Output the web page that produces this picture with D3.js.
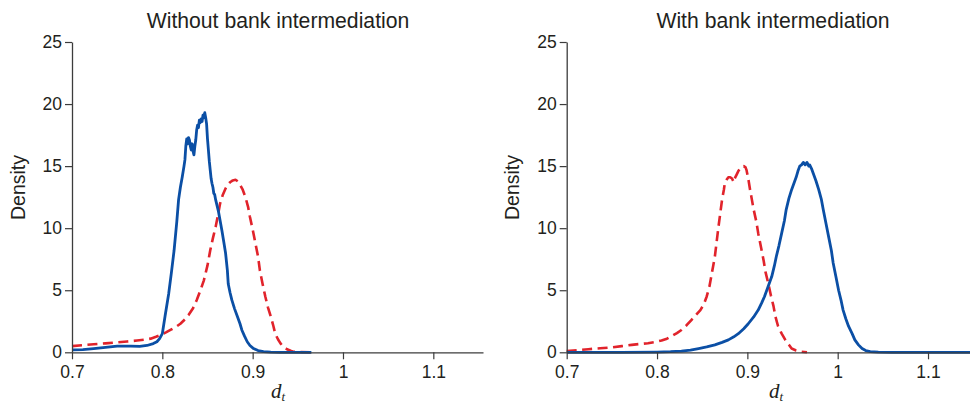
<!DOCTYPE html>
<html>
<head>
<meta charset="utf-8">
<script src="https://cdn.jsdelivr.net/npm/d3@7"></script>
<style>
  html, body { margin: 0; padding: 0; background: #fff; }
  svg { display: block; }
  text { font-family: "Liberation Sans", Arial, Helvetica, sans-serif; fill: #231f20; }
</style>
</head>
<body>
<svg id="chart" width="970" height="405"></svg>
<script>
// ---------------- data ----------------
const panelTitles = ["Without bank intermediation", "With bank intermediation"];
const xTicks = [0.7, 0.8, 0.9, 1.0, 1.1];
const xTickLabels = ["0.7", "0.8", "0.9", "1", "1.1"];
const yTicks = [0, 5, 10, 15, 20, 25];
const yTickLabels = ["0", "5", "10", "15", "20", "25"];

// Without bank intermediation: solid blue
const withoutBlue = [
  [0.700,0.2],[0.712,0.22],[0.724,0.3],[0.737,0.4],[0.750,0.5],[0.765,0.5],[0.775,0.48],[0.783,0.55],
  [0.790,0.7],[0.794,0.85],[0.797,1.1],[0.800,1.5],[0.803,2.9],[0.807,4.7],[0.810,6.4],[0.813,8.2],
  [0.816,10.5],[0.818,12.3],[0.820,13.3],[0.822,14.1],[0.824,15.0],[0.825,15.5],[0.826,16.6],[0.827,17.2],
  [0.828,16.8],[0.829,17.3],[0.830,17.1],[0.831,16.6],[0.832,16.3],[0.833,16.8],[0.834,16.2],[0.835,15.9],
  [0.836,16.6],[0.837,17.1],[0.838,17.9],[0.839,18.3],[0.840,18.1],[0.841,18.7],[0.842,18.5],[0.843,18.8],
  [0.844,18.6],[0.845,19.1],[0.846,18.9],[0.847,19.3],[0.848,18.9],[0.849,18.4],[0.850,17.2],[0.851,16.3],
  [0.852,15.4],[0.853,14.7],[0.854,14.0],[0.855,13.6],[0.856,13.3],[0.857,12.8],[0.858,12.7],[0.859,12.3],
  [0.861,11.7],[0.862,11.4],[0.864,10.6],[0.866,9.8],[0.868,8.9],[0.870,8.0],[0.872,6.6],[0.873,5.5],
  [0.875,4.8],[0.877,4.2],[0.880,3.5],[0.883,2.9],[0.886,2.3],[0.888,1.8],[0.891,1.3],[0.894,0.85],
  [0.897,0.55],[0.901,0.3],[0.906,0.14],[0.912,0.05],[0.920,0.01],[0.930,0],[0.950,0],[0.965,0]
];
// Without bank intermediation: dashed red
const withoutRed = [
  [0.700,0.5],[0.712,0.57],[0.724,0.65],[0.737,0.72],[0.750,0.8],[0.761,0.87],[0.772,0.95],[0.780,1.02],
  [0.787,1.1],[0.793,1.25],[0.798,1.4],[0.804,1.6],[0.809,1.8],[0.815,2.05],[0.820,2.3],[0.825,2.65],
  [0.829,3.0],[0.834,3.55],[0.838,4.2],[0.842,4.95],[0.846,5.8],[0.850,7.0],[0.853,8.2],[0.856,9.2],
  [0.859,10.1],[0.862,11.2],[0.864,12.0],[0.867,12.7],[0.870,13.2],[0.873,13.55],[0.875,13.7],[0.878,13.85],
  [0.881,13.9],[0.884,13.75],[0.886,13.5],[0.889,13.1],[0.892,12.5],[0.895,11.7],[0.897,10.9],[0.900,9.9],
  [0.903,8.8],[0.906,7.7],[0.908,6.6],[0.911,5.5],[0.914,4.5],[0.917,3.6],[0.920,2.9],[0.923,2.1],
  [0.925,1.5],[0.928,1.05],[0.931,0.7],[0.934,0.45],[0.938,0.25],[0.942,0.12],[0.945,0.05],[0.952,0.02],[0.966,0]
];
// With bank intermediation: solid blue
const withBlue = [
  [0.700,0],[0.760,0],[0.800,0.02],[0.815,0.05],[0.827,0.1],[0.837,0.18],[0.846,0.3],[0.855,0.43],
  [0.864,0.6],[0.872,0.8],[0.879,1.0],[0.885,1.25],[0.890,1.5],[0.896,1.9],[0.901,2.3],[0.907,2.85],
  [0.912,3.4],[0.916,4.0],[0.919,4.5],[0.923,5.3],[0.927,6.1],[0.930,7.0],[0.932,7.7],[0.935,8.6],
  [0.938,9.6],[0.941,10.6],[0.943,11.5],[0.946,12.4],[0.949,13.1],[0.952,13.7],[0.954,14.1],[0.956,14.6],
  [0.958,15.0],[0.960,15.1],[0.962,15.3],[0.964,15.1],[0.966,15.3],[0.968,15.0],[0.969,15.1],[0.971,14.8],
  [0.973,14.4],[0.976,13.8],[0.979,13.1],[0.982,12.3],[0.984,11.5],[0.987,10.4],[0.990,9.3],[0.993,8.2],
  [0.995,7.2],[0.998,6.1],[1.001,5.0],[1.004,4.1],[1.006,3.4],[1.009,2.7],[1.012,2.1],[1.016,1.5],
  [1.019,1.0],[1.023,0.6],[1.027,0.3],[1.031,0.14],[1.036,0.05],[1.045,0.01],[1.060,0],[1.100,0],[1.150,0]
];
// With bank intermediation: dashed red
const withRed = [
  [0.700,0.1],[0.712,0.17],[0.724,0.25],[0.737,0.32],[0.750,0.4],[0.761,0.5],[0.772,0.6],[0.781,0.67],
  [0.790,0.73],[0.798,0.83],[0.805,0.95],[0.811,1.1],[0.816,1.3],[0.822,1.55],[0.827,1.8],[0.833,2.2],
  [0.838,2.6],[0.843,3.0],[0.848,3.4],[0.852,3.9],[0.855,4.5],[0.858,5.3],[0.860,6.1],[0.862,6.9],
  [0.864,7.7],[0.866,8.9],[0.868,10.1],[0.870,11.2],[0.872,12.3],[0.874,13.1],[0.875,13.6],[0.877,13.9],
  [0.879,14.1],[0.881,14.1],[0.883,14.0],[0.885,13.7],[0.886,14.0],[0.888,14.3],[0.890,14.6],[0.892,14.8],
  [0.894,14.95],[0.896,15.0],[0.898,14.9],[0.899,14.7],[0.901,14.0],[0.903,13.1],[0.905,12.3],[0.907,11.5],
  [0.910,10.5],[0.912,9.6],[0.915,8.5],[0.918,7.4],[0.920,6.5],[0.923,5.6],[0.926,4.6],[0.929,3.7],
  [0.931,2.9],[0.934,2.1],[0.938,1.5],[0.942,1.0],[0.946,0.6],[0.949,0.3],[0.954,0.15],[0.960,0.05],[0.966,0]
];

const panels = [
  { title: panelTitles[0], blue: withoutBlue, red: withoutRed, x0: 72,    x1: 483,   ylabX: 24.5,  titleX: 278, dX: 278 },
  { title: panelTitles[1], blue: withBlue,    red: withRed,    x0: 566.7, x1: 977.7, ylabX: 518.5, titleX: 773, dX: 776 }
];

// ---------------- drawing ----------------
const svg = d3.select("#chart");
const axisColor = "#3c3c3c";
const blueColor = "#0b4fa5";
const redColor = "#e1232b";

panels.forEach(p => {
  const x = d3.scaleLinear().domain([0.7, 1.155]).range([p.x0, p.x1]);
  const y = d3.scaleLinear().domain([0, 25]).range([352.3, 42]);
  const g = svg.append("g");

  // curves
  const line = d3.line().x(d => x(d[0])).y(d => y(d[1])).curve(d3.curveLinear);
  g.append("path").datum(p.red)
    .attr("d", line).attr("fill", "none")
    .attr("stroke", redColor).attr("stroke-width", 2.6)
    .attr("stroke-dasharray", "10,5.5").attr("stroke-linejoin", "round");
  g.append("path").datum(p.blue)
    .attr("d", line).attr("fill", "none")
    .attr("stroke", blueColor).attr("stroke-width", 2.8)
    .attr("stroke-linejoin", "round");

  // x axis
  const xAxis = d3.axisBottom(x).tickValues(xTicks)
    .tickFormat((d, i) => xTickLabels[i]).tickSize(7).tickSizeOuter(0).tickPadding(6);
  const gx = g.append("g").attr("transform", `translate(0,${y(0)})`).call(xAxis);
  gx.select(".domain").attr("stroke", axisColor).attr("stroke-width", 1.3);
  gx.selectAll(".tick line").attr("stroke", axisColor).attr("stroke-width", 1.2);
  gx.selectAll(".tick text").attr("font-size", "17.5px").attr("fill", "#231f20")
    .attr("font-family", "Liberation Sans, Arial, sans-serif");

  // y axis
  const yAxis = d3.axisLeft(y).tickValues(yTicks)
    .tickFormat((d, i) => yTickLabels[i]).tickSize(7).tickSizeOuter(0).tickPadding(3);
  const gy = g.append("g").attr("transform", `translate(${p.x0},0)`).call(yAxis);
  gy.select(".domain").attr("stroke", axisColor).attr("stroke-width", 1.3);
  gy.selectAll(".tick line").attr("stroke", axisColor).attr("stroke-width", 1.2);
  gy.selectAll(".tick text").attr("font-size", "17.5px").attr("fill", "#231f20")
    .attr("font-family", "Liberation Sans, Arial, sans-serif");

  // title
  g.append("text").attr("x", p.titleX).attr("y", 28)
    .attr("text-anchor", "middle").attr("font-size", "21.2px").text(p.title);

  // y label
  g.append("text")
    .attr("transform", `translate(${p.ylabX},187.5) rotate(-90)`)
    .attr("text-anchor", "middle").attr("font-size", "19.5px").text("Density");

  // x label d_t
  const xl = g.append("text").attr("x", p.dX).attr("y", 398)
    .attr("text-anchor", "middle")
    .style("font-family", "Liberation Serif, Times New Roman, serif")
    .style("font-style", "italic").attr("font-size", "21px");
  xl.append("tspan").text("d");
  xl.append("tspan").attr("font-size", "13px").attr("dy", 2.5).text("t");
});
</script>
</body>
</html>
